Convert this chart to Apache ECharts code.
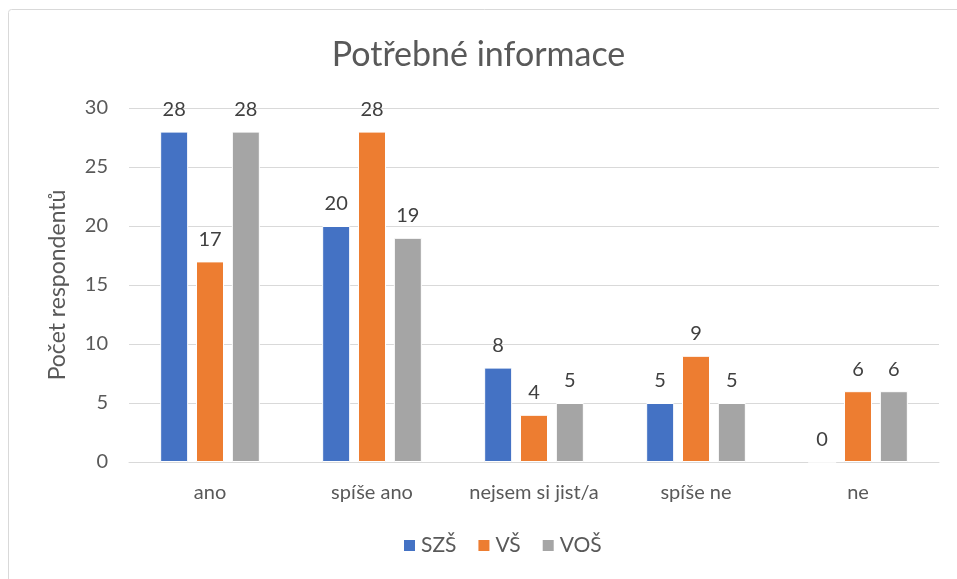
<!DOCTYPE html>
<html>
<head>
<meta charset="utf-8">
<script src="https://cdn.jsdelivr.net/npm/echarts@6/dist/echarts.min.js"></script>
<style>
  html, body { margin: 0; padding: 0; background: #fff; }
  #chart { width: 957px; height: 579px; }
</style>
</head>
<body>
<div id="chart"></div>
<script>
const categories = ['ano', 'spíše ano', 'nejsem si jist/a', 'spíše ne', 'ne']
const seriesNames = ['SZŠ', 'VŠ', 'VOŠ']
const szsValues = [28, 20, 8, 5, 0]
const vsValues = [17, 28, 4, 9, 6]
const vosValues = [28, 19, 5, 5, 6]
const colors = ['#4472c4', '#ed7d31', '#a5a5a5']

const font = 'Lato, "Open Sans", sans-serif'
const chart = echarts.init(document.getElementById('chart'))

const makeSeries = (name, data, color) => ({
  name: name,
  type: 'bar',
  data: data,
  barWidth: 28,
  barGap: '28%',
  itemStyle: { color: color, borderColor: '#fff', borderWidth: 1 },
  label: {
    show: true,
    position: 'top',
    distance: 12,
    color: '#404040',
    fontSize: 20,
    fontFamily: font
  }
})

chart.setOption({
  animation: false,
  title: {
    text: 'Potřebné informace',
    left: 'center',
    top: 33,
    textStyle: { color: '#595959', fontSize: 34, fontWeight: 'normal', fontFamily: font }
  },
  legend: {
    bottom: 18,
    left: 397,
    itemWidth: 13,
    itemHeight: 13,
    itemGap: 20,
    icon: 'rect',
    textStyle: { color: '#595959', fontSize: 21, fontFamily: font }
  },
  grid: { left: 129, right: 18, top: 108, bottom: 117 },
  xAxis: {
    type: 'category',
    data: categories,
    axisLine: { lineStyle: { color: '#d9d9d9', width: 1 } },
    axisTick: { show: false },
    axisLabel: { interval: 0, color: '#595959', fontSize: 20, fontFamily: font, margin: 21 }
  },
  yAxis: {
    type: 'value',
    min: 0,
    max: 30,
    interval: 5,
    name: 'Počet respondentů',
    nameLocation: 'middle',
    nameGap: 60,
    nameTextStyle: { color: '#595959', fontSize: 23, fontFamily: font },
    axisLine: { show: false },
    axisTick: { show: false },
    splitLine: { lineStyle: { color: '#d9d9d9', width: 1 } },
    axisLabel: { color: '#595959', fontSize: 20, fontFamily: font, margin: 21 }
  },
  graphic: [
    {
      type: 'rect',
      silent: true,
      shape: { x: 8.5, y: 9.5, width: 960, height: 580, r: 3 },
      style: { fill: 'none', stroke: '#d9d9d9', lineWidth: 1 }
    }
  ],
  series: [
    makeSeries(seriesNames[0], szsValues, colors[0]),
    makeSeries(seriesNames[1], vsValues, colors[1]),
    makeSeries(seriesNames[2], vosValues, colors[2])
  ]
})
</script>
</body>
</html>
